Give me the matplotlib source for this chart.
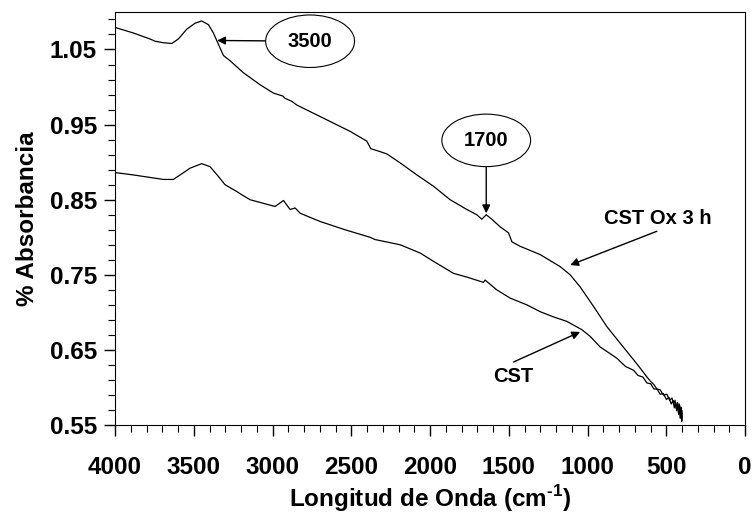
import numpy as np
import matplotlib.pyplot as plt
from matplotlib.ticker import FixedLocator, MultipleLocator

plt.rcParams['font.family'] = ['Liberation Sans', 'DejaVu Sans']
plt.rcParams['font.weight'] = 'bold'
plt.rcParams['mathtext.fontset'] = 'custom'
plt.rcParams['mathtext.rm'] = 'Liberation Sans:bold'
plt.rcParams['mathtext.bf'] = 'Liberation Sans:bold'

# CST Ox 3 h (upper spectrum)
wn_ox = [4000, 3994, 3884, 3778, 3746, 3693, 3640, 3598, 3545, 3492, 3450,
         3407, 3376, 3344, 3312, 3270, 3185, 3079, 2995, 2935, 2921, 2878,
         2846, 2720, 2614, 2508, 2402, 2377, 2317, 2275, 2190, 2084, 1979,
         1873, 1767, 1704, 1672, 1644, 1608, 1556, 1503, 1481, 1429, 1302,
         1175, 1111, 1048, 963, 878, 794, 709, 660, 624, 600, 580, 561, 540,
         520, 497, 480, 465, 455, 445, 438, 430, 424, 418, 413, 408, 404, 401]
abs_ox = [1.080, 1.079, 1.072, 1.064, 1.061, 1.059, 1.058, 1.064, 1.077, 1.085, 1.088,
          1.083, 1.072, 1.057, 1.042, 1.035, 1.019, 1.003, 0.992, 0.988, 0.985, 0.981,
          0.976, 0.963, 0.952, 0.941, 0.928, 0.918, 0.914, 0.911, 0.899, 0.883, 0.868,
          0.850, 0.837, 0.830, 0.824, 0.830, 0.824, 0.814, 0.806, 0.794, 0.788, 0.777,
          0.761, 0.750, 0.734, 0.708, 0.681, 0.659, 0.637, 0.624, 0.614, 0.608, 0.604,
          0.598, 0.597, 0.590, 0.591, 0.583, 0.586, 0.578, 0.583, 0.572, 0.580, 0.566,
          0.578, 0.559, 0.574, 0.556, 0.569]

# CST (lower spectrum)
wn_cst = [4000, 3994, 3884, 3757, 3693, 3630, 3587, 3524, 3450, 3397, 3344,
          3302, 3228, 3206, 3143, 2984, 2931, 2889, 2857, 2825, 2698, 2540,
          2381, 2350, 2190, 2063, 1979, 1852, 1767, 1662, 1651, 1577, 1492,
          1386, 1302, 1217, 1132, 1037, 984, 921, 815, 760, 709, 680, 650, 624,
          600, 580, 560, 540, 520, 500, 485, 470, 458, 450, 442, 435, 428, 422,
          416, 411, 407, 403, 400]
abs_cst = [0.886, 0.886, 0.883, 0.879, 0.877, 0.877, 0.883, 0.892, 0.898, 0.894, 0.881,
           0.870, 0.861, 0.858, 0.850, 0.841, 0.849, 0.837, 0.839, 0.832, 0.821, 0.810,
           0.800, 0.797, 0.790, 0.779, 0.768, 0.752, 0.747, 0.740, 0.743, 0.730, 0.719,
           0.710, 0.701, 0.694, 0.688, 0.677, 0.668, 0.654, 0.639, 0.628, 0.623, 0.616,
           0.614, 0.606, 0.605, 0.598, 0.598, 0.591, 0.592, 0.584, 0.587, 0.578, 0.583,
           0.573, 0.580, 0.569, 0.579, 0.564, 0.576, 0.560, 0.573, 0.555, 0.566]

fig = plt.figure(figsize=(7.52, 5.19), dpi=100)
ax = fig.add_axes([0.153, 0.181, 0.838, 0.796])

ax.plot(wn_ox, abs_ox, color='black', lw=0.9)
ax.plot(wn_cst, abs_cst, color='black', lw=0.9)

ax.set_xlim(4000, 0)
ax.set_ylim(0.55, 1.10)
ax.xaxis.set_major_locator(MultipleLocator(500))
ax.xaxis.set_minor_locator(MultipleLocator(100))
ax.yaxis.set_major_locator(FixedLocator(np.arange(0.55, 1.06, 0.1)))
ax.yaxis.set_minor_locator(FixedLocator(np.arange(0.55, 1.10, 0.02)))
ax.yaxis.set_major_formatter(plt.FuncFormatter(lambda v, p: '%.2f' % v))
ax.tick_params(which='major', direction='out', length=8, width=1, labelsize=17.5, pad=14)
ax.tick_params(which='minor', direction='out', length=5, width=0.8)
ax.tick_params(axis='y', which='major', pad=5)

ax.set_xlabel('Longitud de Onda (cm$^{\\text{-1}}$)', fontsize=17.5, fontweight='bold', labelpad=3)
ax.set_ylabel('% Absorbancia', fontsize=17.5, fontweight='bold', labelpad=8)

arrow = dict(arrowstyle='-|>', color='black', lw=1, mutation_scale=12, shrinkA=0, shrinkB=0)
ell = dict(boxstyle='ellipse,pad=0.45', fc='white', ec='black', lw=0.8)
ax.annotate('3500', xy=(3352, 1.062), xytext=(2762, 1.061), fontsize=14.5,
            fontweight='bold', ha='center', va='center', bbox=ell, arrowprops=arrow)
ax.annotate('1700', xy=(1644, 0.832), xytext=(1644, 0.929), fontsize=14.5,
            fontweight='bold', ha='center', va='center', bbox=ell, arrowprops=arrow)
ax.annotate('', xy=(1111, 0.763), xytext=(561, 0.808), arrowprops=arrow)
ax.text(552, 0.825, 'CST Ox 3 h', fontsize=14.5, fontweight='bold', ha='center', va='center')
ax.annotate('', xy=(1048, 0.674), xytext=(1470, 0.634), arrowprops=arrow)
ax.text(1470, 0.615, 'CST', fontsize=14.5, fontweight='bold', ha='center', va='center')

fig.savefig('out.png', dpi=100)
